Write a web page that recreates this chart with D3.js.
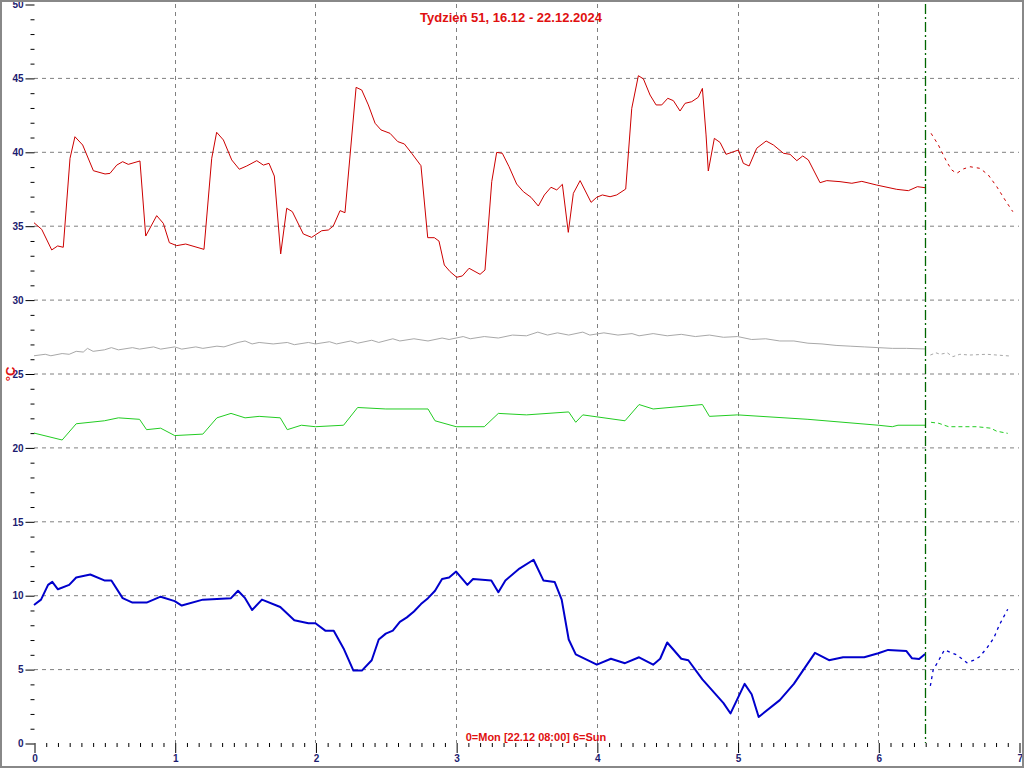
<!DOCTYPE html>
<html><head><meta charset="utf-8">
<script src="https://cdn.jsdelivr.net/npm/d3@7"></script>
<style>html,body{margin:0;padding:0;background:#fff;}svg{display:block;}</style>
</head><body>
<svg id="c" width="1024" height="768"></svg>
<script>
const title = "Tydzień 51, 16.12 - 22.12.2024";
const footer = "0=Mon [22.12 08:00] 6=Sun";
const yLabel = "°C";
const nowX = 6.333;
const xTicks = [0,1,2,3,4,5,6,7];
const yTicks = [0,5,10,15,20,25,30,35,40,45,50];

const redX = [0,0.055,0.126,0.168,0.208,0.256,0.291,0.346,0.422,0.505,0.54,0.588,0.63,0.67,0.753,0.794,0.872,0.919,0.962,1.014,1.078,1.208,1.263,1.298,1.346,1.405,1.459,1.512,1.583,1.63,1.67,1.708,1.753,1.796,1.836,1.914,1.973,2.045,2.092,2.127,2.175,2.21,2.289,2.329,2.376,2.424,2.466,2.53,2.585,2.632,2.684,2.75,2.798,2.845,2.878,2.916,2.957,3.004,3.044,3.092,3.17,3.205,3.253,3.288,3.328,3.376,3.43,3.478,3.532,3.584,3.627,3.674,3.715,3.755,3.797,3.833,3.881,3.959,3.999,4.039,4.094,4.141,4.205,4.248,4.295,4.331,4.378,4.421,4.461,4.504,4.544,4.591,4.627,4.674,4.721,4.75,4.776,4.792,4.835,4.876,4.918,4.958,5.006,5.041,5.082,5.136,5.203,5.255,5.326,5.373,5.421,5.463,5.503,5.586,5.634,5.728,5.812,5.883,5.989,6.131,6.214,6.278,6.333];
const redY = [35.2,34.75,33.36,33.63,33.54,39.56,41.02,40.46,38.72,38.5,38.54,39.1,39.33,39.15,39.38,34.3,35.68,35.16,33.85,33.65,33.76,33.4,39.56,41.32,40.8,39.45,38.82,39.04,39.4,39.1,39.22,38.36,33.09,36.18,35.95,34.44,34.21,34.66,34.71,34.98,36.02,35.88,44.36,44.18,43.17,41.93,41.48,41.25,40.69,40.53,39.9,39.06,34.19,34.19,33.96,32.34,31.89,31.51,31.6,32.12,31.71,32.0,37.98,39.96,39.9,38.99,37.82,37.3,36.92,36.33,37.08,37.6,37.42,37.8,34.55,37.19,38.05,36.58,36.92,37.08,36.96,37.08,37.48,42.94,45.15,44.93,43.84,43.17,43.17,43.62,43.46,42.76,43.28,43.39,43.69,44.29,41.14,38.7,40.91,40.63,39.83,39.96,40.12,39.22,39.04,40.24,40.73,40.46,39.9,39.83,39.4,39.72,39.45,37.91,38.05,37.98,37.87,38.0,37.75,37.46,37.37,37.64,37.57];
const redFcX = [6.375,6.427,6.486,6.522,6.557,6.605,6.652,6.723,6.782,6.842,6.901,6.956];
const redFcY = [41.25,40.46,39.33,38.77,38.54,38.84,38.99,38.88,38.43,37.64,36.74,35.95];

const grayX = [0,0.08,0.12,0.2,0.25,0.3,0.35,0.38,0.42,0.5,0.55,0.6,0.7,0.75,0.85,0.9,1.0,1.05,1.15,1.2,1.3,1.35,1.45,1.5,1.55,1.6,1.7,1.8,1.85,1.95,2.0,2.1,2.15,2.25,2.3,2.4,2.45,2.55,2.6,2.7,2.8,2.9,2.95,3.05,3.1,3.2,3.3,3.4,3.5,3.58,3.65,3.72,3.8,3.9,3.95,4.05,4.15,4.25,4.3,4.4,4.5,4.6,4.7,4.8,4.9,5.0,5.1,5.2,5.3,5.4,5.5,5.6,5.7,5.8,5.9,6.0,6.1,6.2,6.333];
const grayY = [26.2,26.3,26.2,26.35,26.3,26.5,26.45,26.7,26.5,26.6,26.75,26.6,26.75,26.65,26.8,26.65,26.8,26.65,26.8,26.7,26.85,26.8,27.1,27.2,27.0,27.1,27.0,27.1,26.95,27.1,27.0,27.15,27.0,27.2,27.05,27.25,27.1,27.35,27.2,27.35,27.2,27.4,27.3,27.5,27.35,27.5,27.4,27.6,27.55,27.8,27.6,27.75,27.6,27.8,27.6,27.75,27.6,27.7,27.55,27.7,27.55,27.65,27.5,27.6,27.45,27.5,27.3,27.35,27.2,27.2,27.05,27.0,26.9,26.85,26.8,26.75,26.7,26.7,26.66];
const grayFcX = [6.37,6.41,6.44,6.49,6.53,6.58,6.65,6.77,6.94];
const grayFcY = [26.25,26.4,26.3,26.4,26.14,26.3,26.25,26.3,26.18];

const greenX = [0,0.2,0.3,0.5,0.6,0.75,0.8,0.9,1.0,1.2,1.3,1.4,1.5,1.6,1.75,1.8,1.9,2.0,2.2,2.3,2.5,2.8,2.85,3.0,3.2,3.3,3.5,3.8,3.85,3.9,4.2,4.3,4.4,4.75,4.8,5.0,5.5,6.0,6.1,6.14,6.333];
const greenY = [20.97,20.5,21.6,21.8,22.0,21.9,21.2,21.3,20.8,20.9,22.0,22.3,22.0,22.1,22.0,21.2,21.5,21.4,21.5,22.7,22.6,22.6,21.8,21.4,21.4,22.3,22.2,22.4,21.7,22.2,21.8,22.9,22.6,22.9,22.1,22.2,21.9,21.5,21.4,21.5,21.5];
const greenFcX = [6.375,6.43,6.5,6.6,6.7,6.8,6.84,6.92];
const greenFcY = [21.7,21.63,21.4,21.4,21.4,21.3,21.1,20.95];

const blueX = [0,0.05,0.1,0.13,0.17,0.25,0.3,0.4,0.5,0.55,0.63,0.7,0.8,0.9,1.0,1.05,1.2,1.4,1.45,1.5,1.55,1.62,1.75,1.85,1.95,2.0,2.07,2.13,2.2,2.27,2.33,2.4,2.45,2.5,2.55,2.6,2.65,2.7,2.75,2.8,2.85,2.9,2.95,3.0,3.08,3.12,3.25,3.3,3.35,3.45,3.55,3.62,3.7,3.75,3.8,3.85,4.0,4.1,4.2,4.3,4.4,4.45,4.5,4.6,4.65,4.75,4.9,4.95,5.05,5.1,5.15,5.3,5.4,5.55,5.65,5.75,5.9,6.0,6.07,6.2,6.24,6.29,6.333];
const blueY = [9.34,9.7,10.7,10.9,10.4,10.7,11.2,11.4,11.0,11.0,9.8,9.5,9.5,9.9,9.6,9.3,9.7,9.8,10.3,9.8,9.0,9.7,9.2,8.3,8.1,8.1,7.6,7.6,6.4,4.9,4.9,5.6,7.0,7.4,7.6,8.2,8.5,8.9,9.4,9.8,10.3,11.1,11.2,11.6,10.7,11.1,11.0,10.2,11.0,11.8,12.4,11.0,10.9,9.7,7.0,6.0,5.3,5.7,5.4,5.8,5.3,5.7,6.8,5.7,5.6,4.3,2.7,2.0,4.0,3.3,1.76,2.9,4.0,6.1,5.6,5.8,5.8,6.07,6.3,6.22,5.73,5.68,6.02];
const blueFcX = [6.37,6.39,6.43,6.47,6.5,6.56,6.63,6.68,6.72,6.77,6.82,6.86,6.92];
const blueFcY = [3.86,4.94,5.6,6.3,6.18,5.95,5.43,5.6,5.84,6.4,7.08,7.98,9.05];

const W = 1024, H = 768;
const svg = d3.select("#c");
const x = d3.scaleLinear().domain([0,7]).range([34,1019]);
const y = d3.scaleLinear().domain([0,50]).range([743,4]);
const FONT = "'Liberation Sans', Arial, sans-serif";
const tickCol = "#1c1c70";

svg.append("rect").attr("x",0).attr("y",0).attr("width",W).attr("height",H).attr("fill","#fff");

// grid
const g = svg.append("g");
g.selectAll("line.hg").data(yTicks.filter(v=>v>0 && v<50)).join("line")
  .attr("x1",x(0)).attr("x2",x(7)).attr("y1",d=>y(d)+0.5).attr("y2",d=>y(d)+0.5)
  .attr("stroke","#808080").attr("stroke-dasharray","4,4").attr("stroke-width",1);
g.selectAll("line.vg").data(xTicks.filter(v=>v>0 && v<7)).join("line")
  .attr("x1",d=>Math.round(x(d))+0.5).attr("x2",d=>Math.round(x(d))+0.5).attr("y1",y(50)).attr("y2",y(0))
  .attr("stroke","#808080").attr("stroke-dasharray","4,4").attr("stroke-width",1);

// axes
const yAxis = d3.axisLeft(y).tickValues(yTicks).tickSize(9).tickPadding(2).tickFormat(d3.format("d"));
const yMinor = d3.axisLeft(y).tickValues(d3.range(0,51).filter(v=>v%5!==0)).tickSize(4).tickFormat("");
const ga = svg.append("g").attr("transform","translate(34.5,0.5)").call(yAxis);
const gm = svg.append("g").attr("transform","translate(34.5,0.5)").call(yMinor);
const xAxis = d3.axisBottom(x).tickValues(xTicks).tickSize(10).tickPadding(2).tickFormat(d3.format("d"));
const xMinor = d3.axisBottom(x).tickValues(d3.range(0,85).filter(i=>i%12!==0).map(i=>i/12)).tickSize(4).tickFormat("");
const gx = svg.append("g").attr("transform","translate(0.5,743)").call(xAxis);
const gxm = svg.append("g").attr("transform","translate(0.5,743)").call(xMinor);
[ga,gm,gx,gxm].forEach(a=>{
  a.select(".domain").remove();
  a.selectAll("line").attr("stroke","#000");
  a.selectAll("text").attr("fill",tickCol).style("font-family",FONT).style("font-size","10px").style("font-weight","bold");
});
gx.selectAll(".tick text").filter(d=>d===7).attr("text-anchor","end").attr("dx","3");

// series
const line = d3.line().x(d=>x(d[0])).y(d=>y(d[1]));
function draw(xs, ys, col, w, dash){
  svg.append("path").datum(xs.map((v,i)=>[v,ys[i]]))
    .attr("d",line).attr("fill","none").attr("stroke",col).attr("stroke-width",w)
    .attr("stroke-dasharray",dash||null).attr("stroke-linejoin","round");
}
draw(grayX, grayY, "#a8a8a8", 1);
draw(grayFcX, grayFcY, "#a8a8a8", 1, "3,3");
draw(greenX, greenY, "#22cc22", 1);
draw(greenFcX, greenFcY, "#22cc22", 1, "4,3");
draw(redX, redY, "#cc0000", 1);
draw(redFcX, redFcY, "#cc0000", 1, "3,4");
draw(blueX, blueY, "#0000cc", 2);
draw(blueFcX, blueFcY, "#0000cc", 1.3, "3,4");

// now line
svg.append("line").attr("x1",Math.round(x(nowX))+0.5).attr("x2",Math.round(x(nowX))+0.5)
  .attr("y1",y(50)).attr("y2",y(0)).attr("stroke","#006600").attr("stroke-width",1.3)
  .attr("stroke-dasharray","10,3,2,3");

// texts
svg.append("text").attr("x",511).attr("y",22).attr("text-anchor","middle")
  .attr("fill","#e01010").style("font-family",FONT).style("font-size","13px").style("font-weight","bold").text(title);
svg.append("text").attr("x",536).attr("y",741).attr("text-anchor","middle")
  .attr("fill","#e01010").style("font-family",FONT).style("font-size","11px").style("font-weight","bold").text(footer);
svg.append("text").attr("transform","translate(15,374) rotate(-90)").attr("text-anchor","middle")
  .attr("fill","#e01010").style("font-family",FONT).style("font-size","13px").style("font-weight","bold").text(yLabel);

// border
svg.append("rect").attr("x",1).attr("y",1).attr("width",W-2).attr("height",H-2)
  .attr("fill","none").attr("stroke","#888").attr("stroke-width",2);
</script>
</body></html>
